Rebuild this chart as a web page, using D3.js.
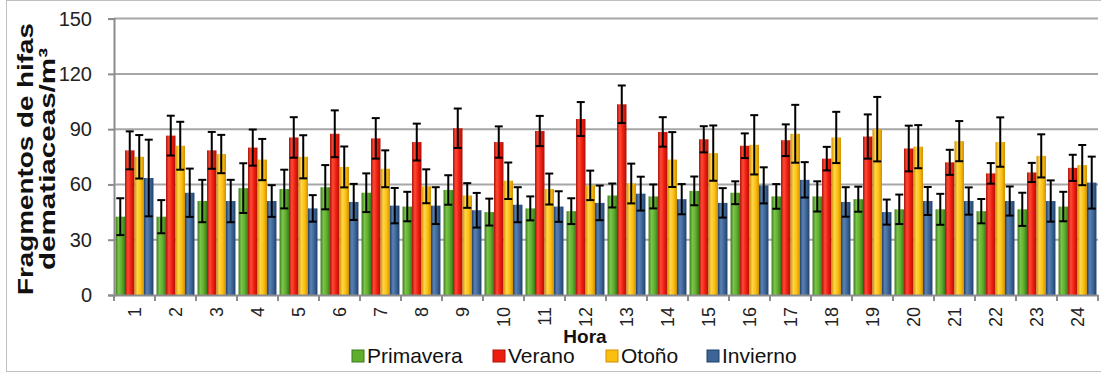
<!DOCTYPE html>
<html>
<head>
<meta charset="utf-8">
<script src="https://cdn.jsdelivr.net/npm/d3@7/dist/d3.min.js"></script>
<style>
  body { margin: 0; background: #fff; }
  svg { display: block; font-family: "Liberation Sans", Arial, sans-serif; }
</style>
</head>
<body>
<svg id="chart" width="1101" height="375"></svg>
<script>
// categories (hour of day)
const horas = ['1','2','3','4','5','6','7','8','9','10','11','12','13','14','15','16','17','18','19','20','21','22','23','24'];
const estaciones = ['Primavera', 'Verano', 'Otoño', 'Invierno'];
const yTicks = [0, 30, 60, 90, 120, 150];

// mean values per season
const primavera = [42.5, 42.5, 51, 58, 57.5, 58.5, 55.5, 48, 57, 45, 47, 45.5, 54, 53.5, 56.5, 55.5, 53.5, 53.5, 52, 46.5, 46.5, 45.5, 46.5, 48];
const verano    = [78.5, 86.5, 78.5, 80, 85.5, 87.5, 85, 83, 90.5, 83, 89, 95.5, 103.5, 88.5, 84.5, 81, 84, 74, 86, 79.5, 72, 66, 66.5, 69];
const otono     = [75, 81, 76.5, 73.5, 75, 69.5, 68.5, 59, 54, 62, 57.5, 59.5, 60.5, 73.5, 77, 81.5, 87.5, 85.5, 90, 80.5, 83.5, 83, 75.5, 70.5];
const invierno  = [63.5, 55.5, 51, 51, 47, 50.5, 48.5, 48.5, 46, 49, 48, 50, 55, 52, 50, 59.5, 62.5, 50.5, 45, 51, 51, 51, 51, 61];

// error bar half-lengths
const primaveraErr = [10, 9, 11.5, 13.5, 10.5, 12, 10.5, 8, 8, 7.3, 6.5, 7, 6.5, 6.5, 7.8, 6.2, 6.7, 8.2, 6.8, 8, 8.4, 6.6, 9, 8];
const veranoErr    = [10.3, 10.8, 10, 9.8, 11, 12.7, 11, 10, 10.7, 8.5, 8.2, 9.2, 10.2, 8, 7.1, 6.7, 8.6, 6.4, 12, 12.4, 6.8, 5.6, 5.2, 7.1];
const otonoErr     = [11.8, 13, 10.4, 11.2, 11.7, 11.1, 10, 9.2, 6.7, 9.9, 8.4, 8, 10.8, 14.9, 15, 16.1, 15.7, 13.9, 17.5, 11.7, 10.9, 13.4, 11.7, 10.9];
const inviernoErr  = [20.8, 13.1, 11.5, 8.6, 7.2, 9.8, 9.6, 10, 9.4, 9.5, 8.3, 9.4, 9.2, 8.2, 8, 9.8, 9.6, 8, 6.8, 7.6, 7.4, 7.9, 11.2, 14.1];

const medias = [primavera, verano, otono, invierno];
const errores = [primaveraErr, veranoErr, otonoErr, inviernoErr];

const colores = {
  Primavera: { edge: '#3a7a1c', mid: '#5fae2e', light: '#7cc44a' },
  Verano:    { edge: '#a8120a', mid: '#ee1c0e', light: '#ff4a35' },
  'Otoño':   { edge: '#cf8f00', mid: '#fcbf10', light: '#ffd54a' },
  Invierno:  { edge: '#21416a', mid: '#3d6597', light: '#5a82b3' }
};

const width = 1101, height = 375;
const margin = { top: 18.6, right: 3, bottom: 80, left: 114 };

const svg = d3.select('#chart');

// gradients for the bars
const defs = svg.append('defs');
estaciones.forEach((s, i) => {
  const g = defs.append('linearGradient')
    .attr('id', 'grad' + i)
    .attr('x1', '0%').attr('x2', '100%').attr('y1', '0%').attr('y2', '0%');
  g.append('stop').attr('offset', '0%').attr('stop-color', colores[s].edge);
  g.append('stop').attr('offset', '30%').attr('stop-color', colores[s].light);
  g.append('stop').attr('offset', '65%').attr('stop-color', colores[s].mid);
  g.append('stop').attr('offset', '100%').attr('stop-color', colores[s].edge);
});

// outer frame
svg.append('rect')
  .attr('x', 6.5).attr('y', 0.5)
  .attr('width', 1100).attr('height', 371)
  .attr('fill', 'none')
  .attr('stroke', '#bfbfbf');

const x0 = d3.scaleBand()
  .domain(horas)
  .range([margin.left, width - margin.right])
  .paddingInner(0.075)
  .paddingOuter(0.0375);

const x1 = d3.scaleBand()
  .domain(estaciones)
  .range([0, x0.bandwidth()]);

const y = d3.scaleLinear()
  .domain([0, 150])
  .range([295, margin.top]);

// gridlines
svg.append('g')
  .selectAll('line')
  .data(yTicks.slice(1))
  .join('line')
  .attr('x1', margin.left)
  .attr('x2', width - margin.right)
  .attr('y1', d => y(d))
  .attr('y2', d => y(d))
  .attr('stroke', '#a6a6a6')
  .attr('stroke-width', 2);

const data = horas.map((h, i) => ({
  hora: h,
  values: estaciones.map((s, j) => ({ key: s, idx: j, value: medias[j][i], err: errores[j][i] }))
}));

const grupo = svg.append('g')
  .selectAll('g')
  .data(data)
  .join('g')
  .attr('transform', d => `translate(${x0(d.hora)},0)`);

grupo.selectAll('rect')
  .data(d => d.values)
  .join('rect')
  .attr('x', d => x1(d.key))
  .attr('y', d => y(d.value))
  .attr('width', x1.bandwidth())
  .attr('height', d => y(0) - y(d.value))
  .attr('fill', d => `url(#grad${d.idx})`);

// error bars
const eb = grupo.selectAll('g.err')
  .data(d => d.values)
  .join('g')
  .attr('class', 'err')
  .attr('stroke', '#000')
  .attr('stroke-width', 2);

const cx = d => x1(d.key) + x1.bandwidth() / 2;
const cap = 4;

eb.append('line')
  .attr('x1', cx).attr('x2', cx)
  .attr('y1', d => y(d.value + d.err))
  .attr('y2', d => y(d.value - d.err));
eb.append('line')
  .attr('x1', d => cx(d) - cap).attr('x2', d => cx(d) + cap)
  .attr('y1', d => y(d.value + d.err))
  .attr('y2', d => y(d.value + d.err));
eb.append('line')
  .attr('x1', d => cx(d) - cap).attr('x2', d => cx(d) + cap)
  .attr('y1', d => y(d.value - d.err))
  .attr('y2', d => y(d.value - d.err));

// y axis
const yAxis = svg.append('g')
  .attr('transform', `translate(${margin.left},0)`)
  .call(d3.axisLeft(y).tickValues(yTicks).tickSize(6).tickPadding(16));
yAxis.select('.domain').attr('stroke', '#8c8c8c').attr('stroke-width', 2);
yAxis.selectAll('.tick line').attr('stroke', '#8c8c8c').attr('stroke-width', 2);
yAxis.selectAll('.tick text')
  .attr('font-size', 20)
  .attr('fill', '#222')
  .attr('font-family', '"Liberation Sans", Arial, sans-serif');

// x axis
const xAxis = svg.append('g')
  .attr('transform', `translate(0,${y(0)})`)
  .call(d3.axisBottom(x0).tickSize(0).tickPadding(12));
xAxis.select('.domain').attr('stroke', '#8c8c8c').attr('stroke-width', 2);
xAxis.selectAll('.tick text')
  .attr('font-size', 18)
  .attr('fill', '#222')
  .attr('font-family', '"Liberation Sans", Arial, sans-serif')
  .attr('transform', 'rotate(-90)')
  .attr('text-anchor', 'end')
  .attr('dy', '0.35em')
  .attr('x', -12)
  .attr('y', 0);

// boundary ticks between categories
const step = x0.step();
svg.append('g')
  .selectAll('line')
  .data(horas.concat(['end']))
  .join('line')
  .attr('x1', (d, i) => margin.left + i * step)
  .attr('x2', (d, i) => margin.left + i * step)
  .attr('y1', y(0))
  .attr('y2', y(0) + 6)
  .attr('stroke', '#8c8c8c')
  .attr('stroke-width', 2);

// axis titles
svg.append('text')
  .attr('x', 585)
  .attr('y', 343)
  .attr('text-anchor', 'middle')
  .attr('font-size', 19)
  .attr('font-weight', 'bold')
  .attr('fill', '#111')
  .text('Hora');

const yTitle = svg.append('text')
  .attr('transform', 'translate(0,159) rotate(-90)')
  .attr('text-anchor', 'middle')
  .attr('font-size', 22)
  .attr('font-weight', 'bold')
  .attr('fill', '#111');
yTitle.append('tspan').attr('x', 0).attr('y', 33)
  .attr('textLength', 272).attr('lengthAdjust', 'spacingAndGlyphs')
  .text('Fragmentos de hifas');
yTitle.append('tspan').attr('x', 0).attr('y', 55)
  .attr('textLength', 222).attr('lengthAdjust', 'spacingAndGlyphs')
  .text('dematiaceas/m³');

// legend
const legendX = [352, 493, 606, 707];
const legend = svg.append('g')
  .selectAll('g')
  .data(estaciones)
  .join('g')
  .attr('transform', (d, i) => `translate(${legendX[i]},356)`);
legend.append('rect')
  .attr('x', 0).attr('y', -6)
  .attr('width', 12).attr('height', 12)
  .attr('fill', (d, i) => colores[d].mid)
  .attr('stroke', (d, i) => colores[d].edge);
legend.append('text')
  .attr('x', 15)
  .attr('dy', '0.35em')
  .attr('font-size', 21)
  .attr('fill', '#111')
  .text(d => d);
</script>
</body>
</html>
